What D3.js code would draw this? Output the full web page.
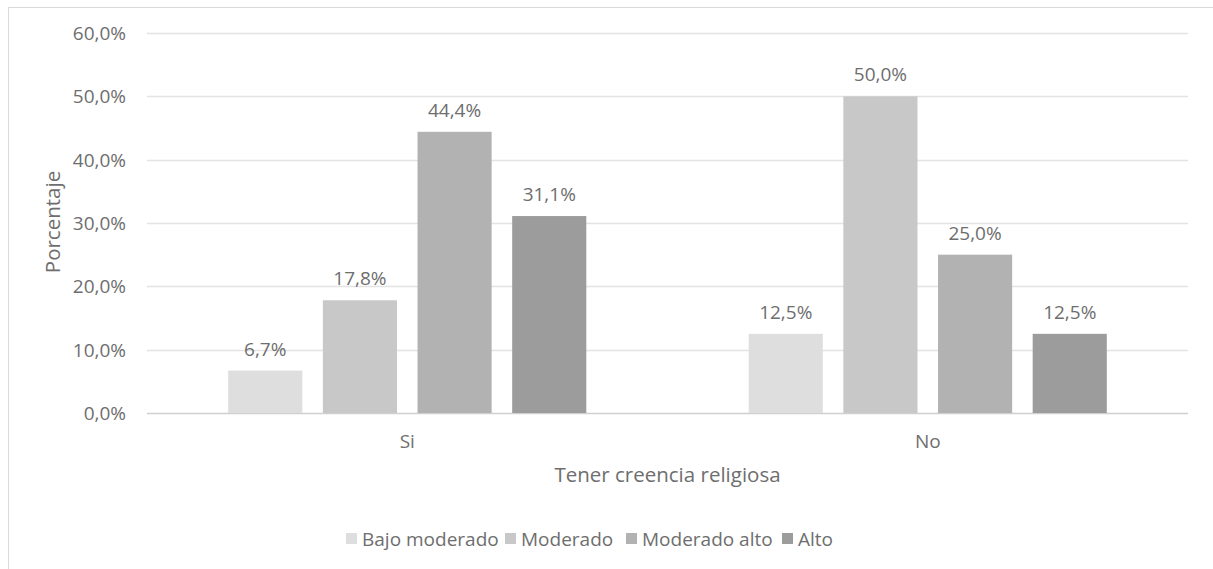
<!DOCTYPE html>
<html>
<head>
<meta charset="utf-8">
<script src="https://cdn.jsdelivr.net/npm/d3@7"></script>
<style>
  body { margin: 0; background: #fff; }
  text { font-family: "Open Sans", sans-serif; fill: #6e6e6e; }
</style>
</head>
<body>
<svg id="chart"></svg>
<script>
const width = 1213
const height = 569

// data
const categories = ['Si', 'No']
const series = ['Bajo moderado', 'Moderado', 'Moderado alto', 'Alto']
const colors = ['#dedede', '#c8c8c8', '#b2b2b2', '#9c9c9c']
const valuesSi = [6.7, 17.8, 44.4, 31.1]
const valuesNo = [12.5, 50.0, 25.0, 12.5]
const yTicks = [0, 10, 20, 30, 40, 50, 60]

const svg = d3.select('#chart').attr('width', width).attr('height', height)

// chart frame
svg.append('rect')
  .attr('x', 8.5).attr('y', 7.5)
  .attr('width', 1220).attr('height', 600)
  .attr('fill', 'none').attr('stroke', '#d9d9d9')

const margin = { left: 147, right: 1188, top: 33, bottom: 413 }

const y = d3.scaleLinear().domain([0, 60]).range([margin.bottom, margin.top])
const x0 = d3.scaleBand().domain(categories).range([margin.left, margin.right])
const bw = x0.bandwidth()
const x1 = d3.scaleBand().domain(series)
  .range([bw * 0.156, bw * 0.844]).paddingInner(0.217)

const fmt = (v) => d3.format('.1f')(v).replace('.', ',') + '%'

// gridlines
svg.append('g')
  .selectAll('line')
  .data(yTicks)
  .join('line')
  .attr('x1', margin.left).attr('x2', margin.right)
  .attr('y1', (d) => Math.round(y(d)) + 0.5)
  .attr('y2', (d) => Math.round(y(d)) + 0.5)
  .attr('stroke', (d) => (d === 0 ? '#d0d0d0' : '#e3e3e3'))
  .attr('stroke-width', 1.3)

// y tick labels
svg.append('g')
  .selectAll('text')
  .data(yTicks)
  .join('text')
  .attr('x', 126)
  .attr('y', (d) => y(d))
  .attr('dy', '0.36em')
  .attr('text-anchor', 'end')
  .style('font-size', '19px')
  .text((d) => fmt(d))

const rows = [valuesSi, valuesNo]

const groups = svg.append('g')
  .selectAll('g')
  .data(categories)
  .join('g')
  .attr('transform', (d) => `translate(${x0(d)},0)`)

groups.selectAll('rect')
  .data((d, i) => series.map((s, j) => ({ s, v: rows[i][j], c: colors[j] })))
  .join('rect')
  .attr('x', (d) => x1(d.s))
  .attr('y', (d) => y(d.v))
  .attr('width', x1.bandwidth())
  .attr('height', (d) => y(0) - y(d.v))
  .attr('fill', (d) => d.c)

groups.selectAll('text.val')
  .data((d, i) => series.map((s, j) => ({ s, v: rows[i][j] })))
  .join('text')
  .attr('class', 'val')
  .attr('x', (d) => x1(d.s) + x1.bandwidth() / 2)
  .attr('y', (d) => y(d.v) - 15)
  .attr('text-anchor', 'middle')
  .style('font-size', '19px')
  .text((d) => fmt(d.v))

// category labels
svg.append('g')
  .selectAll('text')
  .data(categories)
  .join('text')
  .attr('x', (d) => x0(d) + bw / 2)
  .attr('y', 448)
  .attr('text-anchor', 'middle')
  .style('font-size', '19px')
  .text((d) => d)

// axis titles
svg.append('text')
  .attr('x', (margin.left + margin.right) / 2)
  .attr('y', 482)
  .attr('text-anchor', 'middle')
  .style('font-size', '20.5px')
  .text('Tener creencia religiosa')

svg.append('text')
  .attr('transform', 'translate(60,222) rotate(-90)')
  .attr('text-anchor', 'middle')
  .style('font-size', '20.5px')
  .text('Porcentaje')

// legend
const legendX = [346, 505, 626, 782]
const legend = svg.append('g')
  .selectAll('g')
  .data(series)
  .join('g')
  .attr('transform', (d, i) => `translate(${legendX[i]},533)`)

legend.append('rect')
  .attr('width', 11).attr('height', 11)
  .attr('fill', (d, i) => colors[i])

legend.append('text')
  .attr('x', 16).attr('y', 6)
  .attr('dy', '0.36em')
  .style('font-size', '19px')
  .text((d) => d)
</script>
</body>
</html>
